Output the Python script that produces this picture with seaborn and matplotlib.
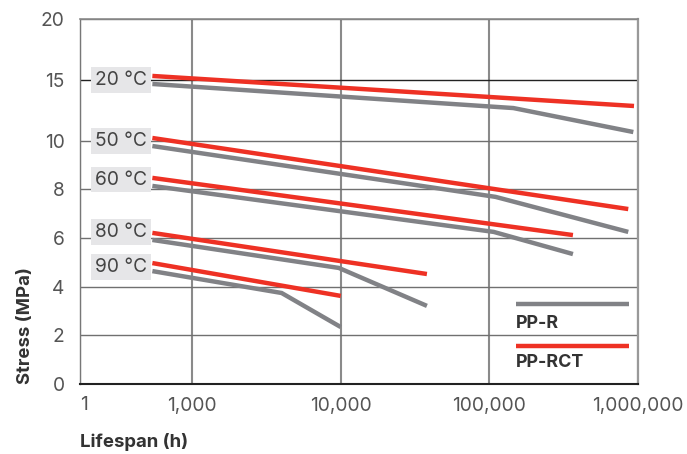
import matplotlib
matplotlib.use("Agg")
import matplotlib.pyplot as plt
import numpy as np
import pandas as pd
import seaborn as sns

temps = ["20 °C", "50 °C", "60 °C", "80 °C", "90 °C"]
ppr_hours = [[540, 145000, 930000], [540, 110000, 860000], [540, 107000, 365000],
             [540, 9700, 38000], [540, 4000, 10000]]
ppr_stress = [[14.66, 12.68, 10.71], [9.78, 7.69, 6.25], [8.14, 6.25, 5.34],
              [5.92, 4.77, 3.21], [4.64, 3.74, 2.34]]
pprct_hours = [[540, 940000], [540, 860000], [540, 365000], [540, 38000], [540, 10000]]
pprct_stress = [[15.32, 12.85], [10.22, 7.19], [8.47, 6.12], [6.21, 4.52], [4.97, 3.62]]
label_stress = [15, 10, 8.4, 6.25, 4.8]

x_ticks = [176, 1000, 10000, 100000, 1000000]
x_labels = ["1", "1,000", "10,000", "100,000", "1,000,000"]
y_ticks = [0, 2, 4, 6, 8, 10, 15, 20]

GRAY = "#818286"
RED = "#ee3124"

rows = []
for t, hs, ss in zip(temps, ppr_hours, ppr_stress):
    for h, s in zip(hs, ss):
        rows.append({"temp": t, "material": "PP-R", "hours": h, "stress": s})
for t, hs, ss in zip(temps, pprct_hours, pprct_stress):
    for h, s in zip(hs, ss):
        rows.append({"temp": t, "material": "PP-RCT", "hours": h, "stress": s})
df = pd.DataFrame(rows)


def fwd(y):
    y = np.asarray(y, dtype=float)
    return np.where(y <= 10, y, 10 + (y - 10) * 0.5)


def inv(f):
    f = np.asarray(f, dtype=float)
    return np.where(f <= 10, f, 10 + (f - 10) * 2)


sns.set_theme(style="white")
plt.rcParams["font.family"] = ["Inter", "DejaVu Sans"]

fig = plt.figure(figsize=(6.87, 4.54), dpi=100)
ax = fig.add_axes([80 / 687, 1 - 384 / 454, 558 / 687, 365 / 454])

sns.lineplot(
    data=df, x="hours", y="stress", hue="material", units="temp", estimator=None,
    palette={"PP-R": GRAY, "PP-RCT": RED}, hue_order=["PP-R", "PP-RCT"],
    sort=False, linewidth=3.2, legend=False, ax=ax, zorder=3,
)
for line in ax.get_lines():
    line.set_solid_capstyle("butt")
    line.set_solid_joinstyle("miter")

ax.set_xscale("log")
ax.set_yscale("function", functions=(fwd, inv))
ax.set_xlim(x_ticks[0], x_ticks[-1])
ax.set_ylim(0, 20)
ax.set_xticks(x_ticks)
ax.set_xticklabels(x_labels)
ax.xaxis.set_minor_locator(matplotlib.ticker.NullLocator())
ax.set_yticks(y_ticks)
ax.set_yticklabels([str(v) for v in y_ticks])
ax.yaxis.set_minor_locator(matplotlib.ticker.NullLocator())

ax.tick_params(axis="x", length=0, pad=9, labelsize=13.8, labelcolor="#555555")
ax.tick_params(axis="y", length=7, width=1, color="#777777", pad=4, labelsize=13.8, labelcolor="#555555")
ax.get_xticklabels()[0].set_horizontalalignment("left")

ax.grid(True, axis="x", color="#8a8a8a", linewidth=1.5, zorder=1)
ax.grid(True, axis="y", color="#707070", linewidth=1.0, zorder=1)
ax.set_axisbelow(True)
ax.get_ygridlines()[6].set_color("#222222")

for side, col, lw in [("left", "#777777", 1.0), ("top", "#8a8a8a", 1.2),
                      ("right", "#999999", 1.6), ("bottom", "#222222", 1.5)]:
    ax.spines[side].set_visible(True)
    ax.spines[side].set_color(col)
    ax.spines[side].set_linewidth(lw)

for t, ys in zip(temps, label_stress):
    ax.text(495, ys, t, ha="right", va="center", fontsize=13.8, color="#444444", zorder=5,
            bbox={"boxstyle": "square,pad=0.2", "facecolor": "#e6e6e8", "edgecolor": "none"})

# legend drawn by hand: line with label underneath
for y_line, y_text, col, name in [(0.219, 0.167, GRAY, "PP-R"), (0.104, 0.058, RED, "PP-RCT")]:
    ax.plot([0.781, 0.984], [y_line, y_line], color=col, linewidth=3.2,
            solid_capstyle="butt", transform=ax.transAxes, zorder=4)
    ax.text(0.781, y_text, name, transform=ax.transAxes, ha="left", va="center",
            fontsize=12.9, fontweight="bold", color="#333333", zorder=4)

ax.set_xlabel("Lifespan (h)", loc="left", fontsize=13.4, fontweight="bold", color="#333333", labelpad=13)
ax.set_ylabel("Stress (MPa)", loc="bottom", fontsize=13.4, fontweight="bold", color="#333333", labelpad=5)

fig.savefig("out.png", dpi=100)
